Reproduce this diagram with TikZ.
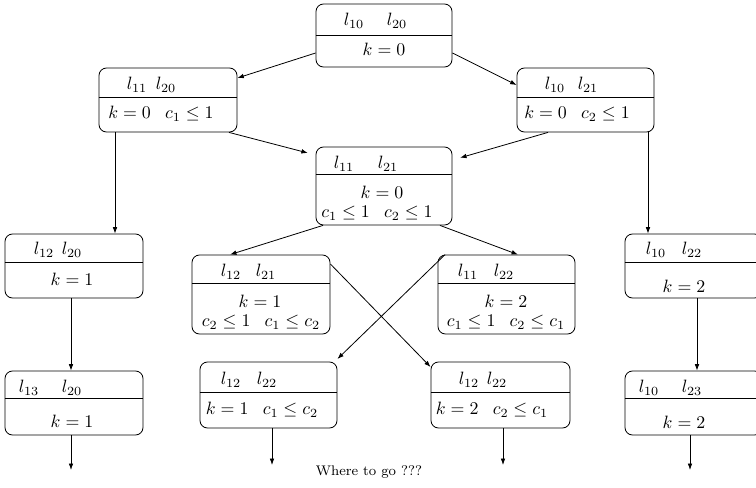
\documentclass[tikz,border=0pt]{standalone}
\usetikzlibrary{fit,arrows.meta}
\newcommand\stbox[6]{%
  \node[boxst, fit={(#2,#3) (#4,#5)}] (#1) {};
  \draw (#1.west |- 0,#6) -- (#1.east |- 0,#6);
}
\newcommand\gp{\hspace{8pt}}
\begin{document}
\begin{tikzpicture}[x=0.56pt,y=-0.56pt,
  boxst/.style={draw,rounded corners=4.2pt,inner sep=0pt,line width=0.45pt},
  arr/.style={-{Latex[length=3.6pt,width=2.6pt]},line width=0.45pt},
  lab/.style={inner sep=0pt}]
\clip (0,0) rectangle (756,488);
% boxes
\stbox{A}{316}{4}{452}{67}{35}
\stbox{B}{99}{68}{237}{132}{97}
\stbox{C}{517}{68}{654}{132}{97}
\stbox{D}{316}{147}{452}{225}{174}
\stbox{E}{5}{234}{143}{298}{262}
\stbox{F}{192}{255}{330}{334}{283}
\stbox{G}{438}{255}{575}{334}{283}
\stbox{H}{625}{234}{762}{298}{262}
\stbox{I}{5}{371}{143}{435}{398}
\stbox{J}{200}{362}{337}{428}{392}
\stbox{K}{431}{362}{570}{428}{392}
\stbox{L}{625}{371}{762}{435}{398}
% labels A
\node[lab] (a1) at (354,21) {$l_{10}$};
\node[lab] (a2) at (397,21) {$l_{20}$};
\node[lab] (a3) at (384,49) {$k=0$};
% B
\node[lab] (b1) at (137,85) {$l_{11}$};
\node[lab] (b2) at (166,85) {$l_{20}$};
\node[lab] (b3) at (161,114) {$k=0\gp c_1\leq 1$};
% C
\node[lab] (c1) at (555,85) {$l_{10}$};
\node[lab] (c2) at (588,85) {$l_{21}$};
\node[lab] (c3) at (577,114) {$k=0\gp c_2\leq 1$};
% D
\node[lab] (d1) at (344,164) {$l_{11}$};
\node[lab] (d2) at (388,164) {$l_{21}$};
\node[lab] (d3) at (382,192) {$k=0$};
\node[lab] (d4) at (377,213) {$c_1\leq 1\gp c_2\leq 1$};
% E
\node[lab] (e1) at (44,250) {$l_{12}$};
\node[lab] (e2) at (72,250) {$l_{20}$};
\node[lab] (e3) at (72,279) {$k=1$};
% F
\node[lab] (f1) at (231,272) {$l_{12}$};
\node[lab] (f2) at (266,272) {$l_{21}$};
\node[lab] (f3) at (260,301) {$k=1$};
\node[lab] (f4) at (261,322) {$c_2\leq 1\gp c_1\leq c_2$};
% G
\node[lab] (g1) at (468,272) {$l_{11}$};
\node[lab] (g2) at (504,272) {$l_{22}$};
\node[lab] (g3) at (506,301) {$k=2$};
\node[lab] (g4) at (506,322) {$c_1\leq 1\gp c_2\leq c_1$};
% H
\node[lab] (h1) at (656,250) {$l_{10}$};
\node[lab] (h2) at (692,250) {$l_{22}$};
\node[lab] (h3) at (684,286) {$k=2$};
% I
\node[lab] (i1) at (29,388) {$l_{13}$};
\node[lab] (i2) at (72,388) {$l_{20}$};
\node[lab] (i3) at (72,421) {$k=1$};
% J
\node[lab] (j1) at (231,380) {$l_{12}$};
\node[lab] (j2) at (267,380) {$l_{22}$};
\node[lab] (j3) at (262,410) {$k=1\gp c_1\leq c_2$};
% K
\node[lab] (k1) at (469,380) {$l_{12}$};
\node[lab] (k2) at (497,380) {$l_{22}$};
\node[lab] (k3) at (492,410) {$k=2\gp c_2\leq c_1$};
% L
\node[lab] (l1) at (649,388) {$l_{10}$};
\node[lab] (l2) at (692,388) {$l_{23}$};
\node[lab] (l3) at (684,422) {$k=2$};
% caption
\node[lab,font=\fontsize{7.8}{9}\selectfont] (wtg) at (369,472) {Where to go ???};
% free ends
\coordinate (iend) at (71,470);
\coordinate (jend) at (272,465);
\coordinate (kend) at (503,465);
\coordinate (lend) at (690,470);
% connectors
\draw[arr] (A.west |- 0,53) -- (B.east |- 0,78);
\draw[arr] (A.east |- 0,53) -- (C.west |- 0,85);
\draw[arr,shorten >=4.5pt] (B.south -| 229,0) -- (D.west |- 0,155);
\draw[arr,shorten >=4.5pt] (C.south -| 548,0) -- (D.east |- 0,160);
\draw[arr] (B.south -| 115,0) -- (E.north -| 115,0);
\draw[arr] (C.south -| 648,0) -- (H.north -| 648,0);
\draw[arr] (D.south -| 323,0) -- (F.north -| 230,0);
\draw[arr] (D.south -| 440,0) -- (G.north -| 518,0);
\draw[arr] (E.south -| 71,0) -- (I.north -| 71,0);
\draw[arr] (H.south -| 697,0) -- (L.north -| 697,0);
\draw[arr] (F.east |- 0,264) -- (K.west |- 0,367);
\draw[arr] (G.north -| 445,0) -- (J.east |- 0,359);
\draw[arr] (I.south -| 71,0) -- (iend);
\draw[arr] (J.south -| 272,0) -- (jend);
\draw[arr] (K.south -| 503,0) -- (kend);
\draw[arr] (L.south -| 690,0) -- (lend);
\end{tikzpicture}
\end{document}
